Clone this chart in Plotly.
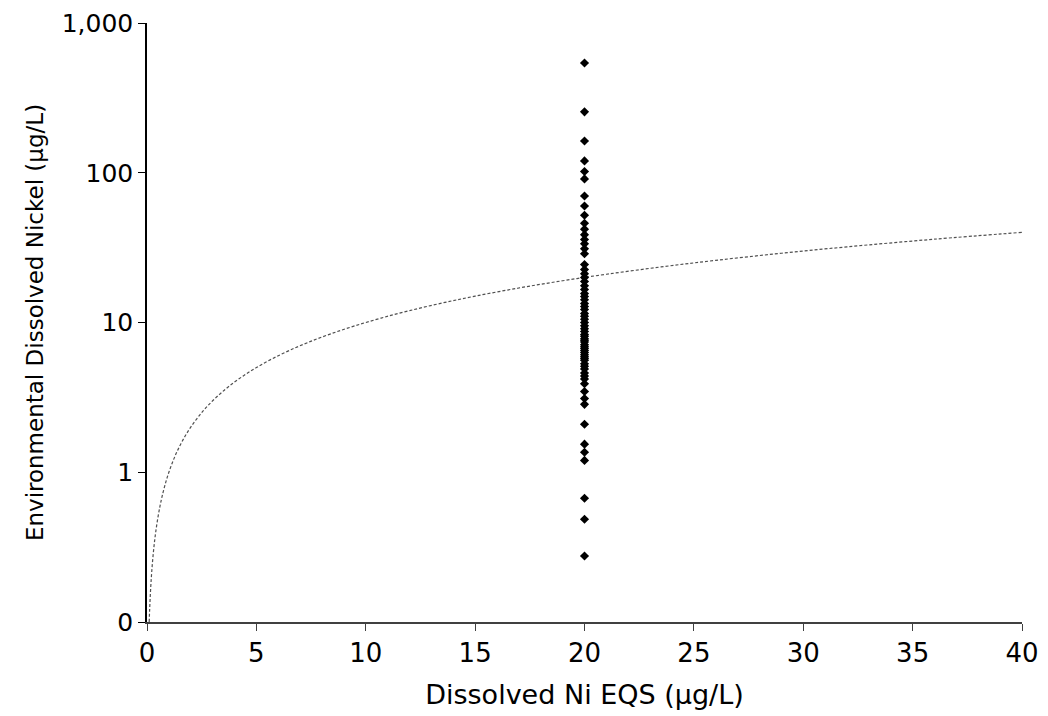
import plotly.graph_objects as go

# Data
env_ni = [541, 255, 163, 120, 102, 91, 70, 60, 52, 46, 42, 38.6, 35.8, 33.6, 31.1, 28.8,
          24.4, 22.6, 21.2, 20.0, 18.8, 17.6, 16.6, 15.6, 14.9, 14.2, 13.4, 12.8, 12.2,
          11.5, 11.0, 10.5, 10.0, 9.5, 9.1, 8.7, 8.3, 8.1, 7.8, 7.6, 7.4, 7.1, 6.9, 6.7,
          6.5, 6.3, 6.1, 5.9, 5.75, 5.6, 5.3, 5.1, 4.9, 4.6, 4.4, 4.2, 3.9, 3.46, 3.11,
          2.84, 2.09, 1.54, 1.36, 1.2, 0.67, 0.486, 0.276]
eqs_x = [20] * len(env_ni)

# 1:1 reference line (EQS = environmental concentration)
line_x = [0.1, 0.12, 0.15, 0.18, 0.22, 0.27, 0.33, 0.4, 0.5, 0.6, 0.7, 0.85, 1.0, 1.2,
          1.4, 1.7, 2.0, 2.4, 2.8, 3.3, 3.8, 4.4, 5.0, 5.7, 6.5, 7.4, 8.4, 9.5, 10.7,
          12.0, 13.5, 15.0, 17.0, 19.0, 21.0, 23.5, 26.0, 29.0, 32.0, 36.0, 40.0]
line_y = line_x

y_tickvals = [0.1, 1, 10, 100, 1000]
y_ticktext = ["0", "1", "10", "100", "1,000"]

fig = go.Figure()
fig.add_trace(go.Scatter(x=line_x, y=line_y, mode="lines",
                         line=dict(color="#505050", width=1.2, dash="3px,2px", shape="spline"),
                         showlegend=False, hoverinfo="skip"))
fig.add_trace(go.Scatter(x=eqs_x, y=env_ni, mode="markers",
                         marker=dict(symbol="diamond", size=7, color="black"),
                         showlegend=False))

font = "DejaVu Sans, Liberation Sans, Arial, sans-serif"
fig.update_layout(
    width=1048, height=716,
    margin=dict(l=139, r=34, t=15, b=102),
    paper_bgcolor="white", plot_bgcolor="white",
    font=dict(family=font, size=26, color="black"),
    xaxis=dict(range=[0, 40], dtick=5, tick0=0, showgrid=False, zeroline=False,
               showline=True, linecolor="#404040", linewidth=1.5, automargin=False,
               ticks="outside", ticklen=7, tickcolor="#404040",
               tickfont=dict(size=26), ticklabeloverflow="allow",
               title=dict(text="Dissolved Ni EQS (µg/L)", font=dict(size=27), standoff=18)),
    yaxis=dict(type="log", range=[-1, 3], tickvals=y_tickvals, ticktext=y_ticktext,
               showgrid=False, zeroline=False, automargin=False,
               showline=True, linecolor="black", linewidth=1.5,
               ticks="outside", ticklen=7, tickcolor="black",
               tickfont=dict(size=25), ticklabeloverflow="allow",
               title=dict(text="Environmental Dissolved Nickel (µg/L)", font=dict(size=23), standoff=12)),
)
fig.write_html("out.html")
